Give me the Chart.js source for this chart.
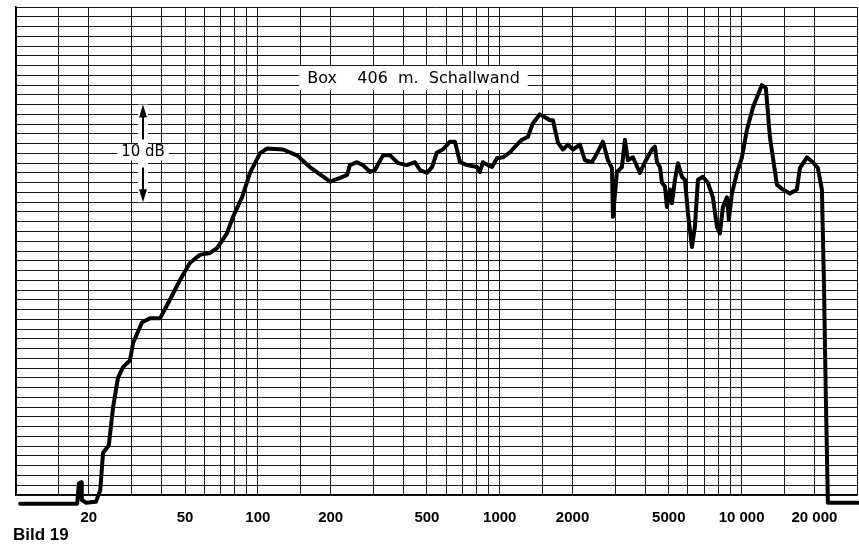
<!DOCTYPE html>
<html>
<head>
<meta charset="utf-8">
<script src="https://cdn.jsdelivr.net/npm/chart.js@4.4.0/dist/chart.umd.min.js"></script>
<style>
  html, body { margin: 0; padding: 0; background: #fff; }
</style>
</head>
<body>
<canvas id="grafica" width="859" height="544"></canvas>
<script>
// Frequenzgang Box 406 m. Schallwand (Bild 19)
const freqHz = [
  10.4, 17.9, 18.2, 18.6, 18.7, 19.5, 21.4, 22.3, 22.9, 24.2,
  25.2, 26.4, 27.7, 29.6, 30.5, 33.2, 35.8, 39.4, 43.3, 47.6,
  52.4, 57.6, 63.4, 67.8, 74.5, 78.9, 86, 92.8, 102, 109,
  127, 145, 164, 199, 219, 234, 240, 257, 272, 291,
  305, 329, 352, 380, 413, 446, 468, 500, 525, 550,
  582, 623, 653, 685, 732, 805, 828, 852, 894, 929,
  974, 1031, 1102, 1178, 1235, 1308, 1372, 1466, 1538, 1613,
  1660, 1740, 1825, 1914, 2008, 2146, 2250, 2405, 2522, 2671,
  2802, 2910, 2938, 3052, 3201, 3293, 3388, 3553, 3798, 3984,
  4258, 4382, 4467, 4596, 4684, 4820, 4913, 5055, 5152, 5302,
  5455, 5667, 5832, 6000, 6232, 6412, 6598, 6918, 7256, 7608,
  7904, 8133, 8368, 8693, 8861, 9118, 9564, 10030, 10520, 11135,
  12130, 12600, 13090, 13990, 14810, 15840, 16930, 17420, 18620, 19710,
  20670, 21480, 21890, 22310, 22740, 30260
];
const pegelDb = [
  -0.9, -0.9, 1.2, 1.3, -0.5, -0.8, -0.7, 0.5, 4.3, 5.1,
  9.0, 12.0, 13.1, 13.8, 15.6, 17.7, 18.1, 18.1, 20.0, 22.0,
  23.8, 24.6, 24.8, 25.3, 26.8, 28.5, 30.5, 33.0, 35.0, 35.5,
  35.4, 34.8, 33.6, 32.1, 32.5, 32.8, 33.8, 34.1, 33.8, 33.1,
  33.3, 34.8, 34.8, 34.0, 33.8, 34.1, 33.3, 33.0, 33.6, 35.1,
  35.4, 36.2, 36.2, 34.1, 33.8, 33.6, 33.1, 34.1, 33.8, 33.6,
  34.5, 34.6, 35.1, 35.9, 36.4, 36.7, 38.1, 39.0, 38.7, 38.4,
  38.4, 36.1, 35.4, 35.9, 35.4, 35.9, 34.3, 34.1, 35.0, 36.2,
  34.3, 33.5, 28.5, 33.1, 33.6, 36.4, 34.3, 34.6, 33.0, 34.1,
  35.4, 35.7, 34.1, 33.6, 32.0, 31.6, 29.5, 31.3, 29.9, 32.3,
  34.0, 32.6, 32.3, 28.9, 25.4, 27.5, 32.3, 32.6, 32.0, 30.5,
  27.5, 26.8, 29.5, 30.5, 28.2, 30.9, 33.0, 34.6, 37.4, 39.7,
  42.0, 41.7, 36.7, 31.8, 31.3, 30.9, 31.3, 33.5, 34.6, 34.1,
  33.5, 31.3, 22.0, 9.7, -0.8, -0.8
];

// Rasterlinien des Messpapiers
const dekaden = [10, 100, 1000, 10000];
const teilung = [1, 1.5, 2, 3, 4, 5, 6, 7, 8, 9];
const gridFreqs = dekaden.flatMap(d => teilung.map(t => d * t)).filter(f => f <= 20000).concat([30000]);

const tickFreqs = [20, 50, 100, 200, 500, 1000, 2000, 5000, 10000, 20000];
const tickTexts = ["20", "50", "100", "200", "500", "1000", "2000", "5000", "10 000", "20 000"];

const labelBox = "Box    406  m.  Schallwand";
const labelBoxAt = [440, 42.7];
const labelScale = "10 dB";
const scaleArrowFreq = 33.5;
const scaleArrowDb = [30, 40];
const caption = "Bild 19";

const beschriftung = {
  id: "beschriftung",
  afterDraw(chart) {
    const { ctx, scales: { x, y } } = chart;
    ctx.save();

    // Titel im Diagramm
    ctx.font = '16px "DejaVu Sans"';
    const bx = x.getPixelForValue(labelBoxAt[0]);
    const by = y.getPixelForValue(labelBoxAt[1]);
    const bw = ctx.measureText(labelBox).width;
    ctx.fillStyle = "#fff";
    ctx.fillRect(bx - bw / 2 - 8, by - 12, bw + 16, 24);
    ctx.fillStyle = "#000";
    ctx.textAlign = "center";
    ctx.textBaseline = "middle";
    ctx.fillText(labelBox, bx, by + 1);

    // 10 dB Massstab
    const ax = x.getPixelForValue(scaleArrowFreq);
    const top = y.getPixelForValue(scaleArrowDb[1]);
    const bot = y.getPixelForValue(scaleArrowDb[0]);
    const mid = (top + bot) / 2;
    ctx.fillStyle = "#fff";
    ctx.fillRect(ax - 5, top, 10, bot - top);
    ctx.font = '15px "DejaVu Sans"';
    const tw = ctx.measureText(labelScale).width;
    ctx.fillRect(ax - tw / 2 - 4, mid - 9, tw + 8, 16);
    ctx.fillStyle = "#000";
    ctx.fillText(labelScale, ax, mid - 1);

    ctx.strokeStyle = "#000";
    ctx.lineWidth = 2;
    ctx.beginPath();
    ctx.moveTo(ax, top + 8);
    ctx.lineTo(ax, mid - 14);
    ctx.moveTo(ax, mid + 14);
    ctx.lineTo(ax, bot - 8);
    ctx.stroke();
    ctx.beginPath();
    ctx.moveTo(ax, top);
    ctx.lineTo(ax - 4, top + 13);
    ctx.lineTo(ax + 4, top + 13);
    ctx.closePath();
    ctx.moveTo(ax, bot);
    ctx.lineTo(ax - 4, bot - 13);
    ctx.lineTo(ax + 4, bot - 13);
    ctx.closePath();
    ctx.fill();

    // Bildunterschrift
    ctx.font = 'bold 17px "Liberation Sans"';
    ctx.textAlign = "left";
    ctx.fillText(caption, 13, 535);
    ctx.restore();
  }
};

const ctx = document.getElementById("grafica").getContext("2d");

new Chart(ctx, {
  type: "line",
  data: {
    datasets: [{
      data: freqHz.map((f, i) => ({ x: f, y: pegelDb[i] })),
      borderColor: "#000",
      borderWidth: 4,
      pointRadius: 0,
      tension: 0,
      clip: false,
      borderJoinStyle: "round",
      borderCapStyle: "round"
    }]
  },
  options: {
    responsive: false,
    animation: false,
    layout: { padding: { left: 16, right: 2, top: 7, bottom: 0 } },
    plugins: {
      legend: { display: false },
      tooltip: { enabled: false }
    },
    scales: {
      x: {
        type: "logarithmic",
        min: 10,
        max: 30000,
        afterBuildTicks: s => { s.ticks = gridFreqs.map(v => ({ value: v })); },
        afterFit: s => { s.height = 49; s.paddingLeft = 0; s.paddingRight = 0; },
        grid: { color: "#1a1a1a", lineWidth: 1, drawTicks: false },
        border: { color: "#000", width: 1.5 },
        ticks: {
          autoSkip: false,
          maxRotation: 0,
          minRotation: 0,
          padding: 14,
          color: "#000",
          font: { family: "Liberation Sans", size: 15, weight: "bold" },
          callback: v => {
            const i = tickFreqs.indexOf(v);
            return i < 0 ? "" : tickTexts[i];
          }
        }
      },
      y: {
        min: 0,
        max: 50,
        afterFit: s => { s.width = 0; },
        grid: { color: "#1a1a1a", lineWidth: 1, drawTicks: false },
        border: { color: "#000", width: 1.5 },
        ticks: { display: false, stepSize: 1, autoSkip: false }
      }
    }
  },
  plugins: [beschriftung]
});
</script>
</body>
</html>
